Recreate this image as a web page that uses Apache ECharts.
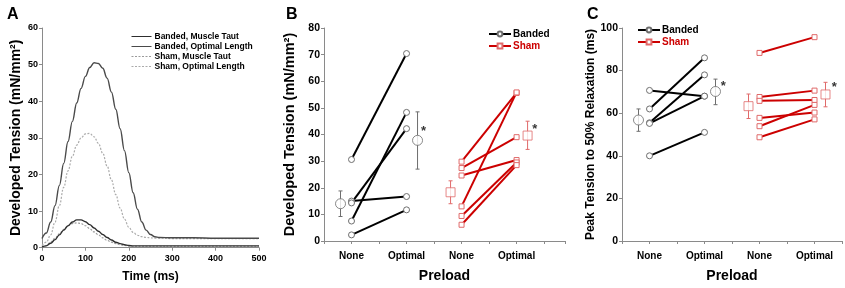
<!DOCTYPE html>
<html>
<head>
<meta charset="utf-8">
<script src="https://cdn.jsdelivr.net/npm/echarts@6/dist/echarts.min.js"></script>
<style>
  html, body { margin: 0; padding: 0; background: #fff; }
  #chart { width: 845px; height: 288px; }
</style>
</head>
<body>
<div id="chart"></div>
<script>
// Panel A: tension traces (time in ms)
const timeMs = [0,10,20,30,40,50,60,70,80,90,100,110,120,130,140,150,160,170,180,190,200,210,220,230,240,250,260,270,300,350,400,450,500];
const bandedTaut   = [0.2,0.5,1.2,2.2,3.5,4.8,6.0,7.0,7.6,7.6,7.1,6.3,5.4,4.5,3.6,2.8,2.1,1.5,1.1,0.8,0.6,0.5,0.5,0.5,0.5,0.5,0.5,0.5,0.5,0.5,0.5,0.5,0.5];
const bandedOptimal = [2.5,4,7,11.5,17,23,29,34.5,39.5,43.5,46.8,49.2,50.5,50.3,49,46.3,42.5,37.8,32.5,26.5,20.5,15,10.5,7,4.8,3.6,3.0,2.8,2.7,2.7,2.6,2.6,2.6];
const shamTaut     = [0.1,0.6,1.5,2.6,3.8,5.0,6.0,6.6,6.8,6.6,6.0,5.2,4.3,3.5,2.7,2.0,1.5,1.1,0.8,0.6,0.5,0.4,0.4,0.4,0.4,0.4,0.4,0.4,0.4,0.4,0.4,0.4,0.4];
const shamOptimal  = [0.6,1.5,3.5,7,11.5,16.5,21,25,28,30,31.1,31.2,30.3,28.5,25.8,22.3,18.5,14.5,10.8,7.8,5.6,4.2,3.4,3.0,2.8,2.7,2.6,2.6,2.5,2.5,2.5,2.5,2.5];

// Panels B and C: x positions of the preload groups
const groupPos = [1, 2, 3, 4];
const groupLabels = ['None', 'Optimal', 'None', 'Optimal'];

// Panel B: developed tension (mN/mm2), paired None -> Optimal
const bandedNoneB = [30.6, 15.0, 14.3, 7.5, 2.3];
const bandedOptB  = [70.4, 16.7, 42.2, 48.3, 11.7];
const shamNoneB   = [29.8, 27.4, 24.6, 13.0, 9.4, 6.1];
const shamOptB    = [55.6, 39.0, 30.4, 55.8, 29.5, 28.5];
const bandedMeanB = [14.0, 37.8], bandedLoB = [9.2, 27.0], bandedHiB = [18.8, 48.5];
const shamMeanB   = [18.3, 39.6], shamLoB   = [14.0, 34.4], shamHiB   = [22.6, 45.0];

// Panel C: peak tension to 50% relaxation (ms)
const bandedNoneC = [70.7, 62.0, 55.5, 55.2, 40.0];
const bandedOptC  = [68.0, 86.0, 78.0, 68.0, 51.0];
const shamNoneC   = [88.3, 67.6, 65.8, 57.8, 53.9, 48.7];
const shamOptC    = [95.7, 70.6, 66.2, 60.3, 63.9, 57.1];
const bandedMeanC = [56.8, 70.2], bandedLoC = [51.5, 64.0], bandedHiC = [62.0, 76.0];
const shamMeanC   = [63.3, 68.8], shamLoC   = [57.5, 63.0], shamHiC   = [69.0, 74.5];

// mean marker x positions (offset from groups), significance stars
const bandedMeanX = [0.8, 2.2];
const shamMeanX = [2.8, 4.2];
const starsB = [[2.31, 41], [4.33, 41.8]];
const starsC = [[2.34, 72.7], [4.36, 72.2]];

const FONT = 'Liberation Sans, Arial, sans-serif';
const RED = '#cc0000';
const LIGHTRED = '#e06a6a';
const GRAYMK = '#6e6e6e';

const chart = echarts.init(document.getElementById('chart'), null, { renderer: 'canvas' });

function zip(xs, ys) { return xs.map((x, i) => [x, ys[i]]); }

function axisBase(fontSize) {
  return {
    axisLine: { show: true, lineStyle: { color: '#8a8a8a', width: 1 } },
    axisTick: { show: true, length: 3, lineStyle: { color: '#8a8a8a' } },
    splitLine: { show: false },
    axisLabel: { color: '#000', fontWeight: 'bold', fontFamily: FONT, fontSize: fontSize, margin: 4 },
    nameTextStyle: { color: '#000', fontWeight: 'bold', fontFamily: FONT }
  };
}

function traceSeries(name, data, color, dotted, width) {
  return {
    name: name, type: 'line', xAxisIndex: 0, yAxisIndex: 0,
    data: zip(timeMs, data), symbol: 'none', smooth: 0.4, smoothMonotone: 'x',
    lineStyle: { color: color, width: width, type: dotted ? [2, 1.5] : 'solid' },
    itemStyle: { color: color }
  };
}

function pairSeries(name, none, opt, x0, axis, isSham) {
  return none.map((v, i) => ({
    name: name, type: 'line', xAxisIndex: axis, yAxisIndex: axis,
    data: [[groupPos[x0], v], [groupPos[x0 + 1], opt[i]]],
    symbol: isSham ? 'rect' : 'circle', symbolSize: isSham ? 5 : 6,
    lineStyle: { color: isSham ? RED : '#000', width: 2 },
    itemStyle: { color: '#fff', borderColor: isSham ? LIGHTRED : GRAYMK, borderWidth: 1 },
    z: 3
  }));
}

function errorSeries(xs, means, lo, hi, axis, color, isSham) {
  const data = xs.map((x, i) => [x, means[i], lo[i], hi[i]]);
  return [{
    type: 'custom', xAxisIndex: axis, yAxisIndex: axis, data: data,
    encode: { x: 0, y: [1, 2, 3] }, z: 2,
    renderItem: function (params, api) {
      const top = api.coord([api.value(0), api.value(3)]);
      const bot = api.coord([api.value(0), api.value(2)]);
      const w = 2;
      const st = { stroke: color, lineWidth: 1 };
      return { type: 'group', children: [
        { type: 'line', shape: { x1: top[0], y1: top[1], x2: bot[0], y2: bot[1] }, style: st },
        { type: 'line', shape: { x1: top[0] - w, y1: top[1], x2: top[0] + w, y2: top[1] }, style: st },
        { type: 'line', shape: { x1: bot[0] - w, y1: bot[1], x2: bot[0] + w, y2: bot[1] }, style: st }
      ] };
    }
  }, {
    type: 'scatter', xAxisIndex: axis, yAxisIndex: axis,
    data: zip(xs, means), symbol: isSham ? 'rect' : 'circle', symbolSize: isSham ? 9 : 10,
    itemStyle: { color: '#fff', borderColor: color, borderWidth: 1 }, z: 4
  }];
}

function starSeries(pts, axis) {
  return {
    type: 'scatter', xAxisIndex: axis, yAxisIndex: axis, data: pts,
    symbolSize: 1, itemStyle: { color: 'transparent' },
    label: { show: true, formatter: '*', position: 'inside', color: '#000',
      fontSize: 13, fontWeight: 'bold', fontFamily: FONT }
  };
}

const groupAxisLabel = function (v) {
  const i = groupPos.indexOf(v);
  return i >= 0 ? groupLabels[i] : '';
};

const option = {
  animation: false,
  backgroundColor: '#fff',
  title: [
    { text: 'A', left: 2, top: 2, textStyle: { fontSize: 16, fontWeight: 'bold', fontFamily: FONT, color: '#000' } },
    { text: 'B', left: 281, top: 2, textStyle: { fontSize: 16, fontWeight: 'bold', fontFamily: FONT, color: '#000' } },
    { text: 'C', left: 582, top: 2, textStyle: { fontSize: 16, fontWeight: 'bold', fontFamily: FONT, color: '#000' } }
  ],
  legend: [
    {
      orient: 'vertical', left: 131, top: 32, padding: 0, itemGap: 1,
      itemWidth: 20, itemHeight: 8,
      itemStyle: { opacity: 0 },
      lineStyle: { width: 1 },
      textStyle: { fontSize: 8.5, fontWeight: 'bold', fontFamily: FONT, color: '#000', lineHeight: 8, padding: [0, 0, 0, -2] },
      data: ['Banded, Muscle Taut', 'Banded, Optimal Length', 'Sham, Muscle Taut', 'Sham, Optimal Length']
    },
    {
      orient: 'vertical', left: 488, top: 29, padding: 0, itemGap: 2,
      itemWidth: 22, itemHeight: 6,
      textStyle: { fontSize: 10, fontWeight: 'bold', fontFamily: FONT, lineHeight: 9, padding: [0, 0, 0, -3] },
      data: [{ name: 'Banded', textStyle: { color: '#000' } }, { name: 'Sham', textStyle: { color: RED } }]
    },
    {
      orient: 'vertical', left: 637, top: 25, padding: 0, itemGap: 2,
      itemWidth: 22, itemHeight: 6,
      textStyle: { fontSize: 10, fontWeight: 'bold', fontFamily: FONT, lineHeight: 9, padding: [0, 0, 0, -3] },
      data: [{ name: 'Banded', textStyle: { color: '#000' } }, { name: 'Sham', textStyle: { color: RED } }]
    }
  ],
  grid: [
    { left: 42, top: 28, width: 217, height: 219.7 },
    { left: 324, top: 28, width: 241, height: 219.7 },
    { left: 622, top: 28, width: 220, height: 219.7 }
  ],
  xAxis: [
    Object.assign(axisBase(9), { gridIndex: 0, type: 'value', min: 0, max: 500, interval: 100,
      name: 'Time (ms)', nameLocation: 'middle', nameGap: 23,
      nameTextStyle: { color: '#000', fontWeight: 'bold', fontFamily: FONT, fontSize: 12 } }),
    Object.assign(axisBase(10), { gridIndex: 1, type: 'value', min: 0.5, max: 4.88, interval: 0.5,
      name: 'Preload', nameLocation: 'middle', nameGap: 28,
      nameTextStyle: { color: '#000', fontWeight: 'bold', fontFamily: FONT, fontSize: 14 } }),
    Object.assign(axisBase(10), { gridIndex: 2, type: 'value', min: 0.5, max: 4.5, interval: 0.5,
      name: 'Preload', nameLocation: 'middle', nameGap: 28,
      nameTextStyle: { color: '#000', fontWeight: 'bold', fontFamily: FONT, fontSize: 14 } })
  ],
  yAxis: [
    Object.assign(axisBase(9), { gridIndex: 0, type: 'value', min: 0, max: 60, interval: 10,
      name: 'Developed Tension (mN/mm\u00b2)', nameLocation: 'middle', nameGap: 19,
      nameTextStyle: { color: '#000', fontWeight: 'bold', fontFamily: FONT, fontSize: 14 } }),
    Object.assign(axisBase(10.5), { gridIndex: 1, type: 'value', min: 0, max: 80, interval: 10,
      name: 'Developed Tension (mN/mm\u00b2)', nameLocation: 'middle', nameGap: 27,
      nameTextStyle: { color: '#000', fontWeight: 'bold', fontFamily: FONT, fontSize: 14.5 } }),
    Object.assign(axisBase(10.5), { gridIndex: 2, type: 'value', min: 0, max: 100, interval: 20,
      name: 'Peak Tension to 50% Relaxation (ms)', nameLocation: 'middle', nameGap: 25,
      nameTextStyle: { color: '#000', fontWeight: 'bold', fontFamily: FONT, fontSize: 12 } })
  ],
  series: []
};

option.xAxis[0].axisLabel.margin = 6;
option.xAxis[1].axisLabel.formatter = groupAxisLabel;
option.xAxis[2].axisLabel.formatter = groupAxisLabel;
option.xAxis[1].axisLabel.margin = 10;
option.xAxis[2].axisLabel.margin = 10;

option.series = [].concat(
  traceSeries('Sham, Muscle Taut', shamTaut, '#9a9a9a', true, 1.2),
  traceSeries('Sham, Optimal Length', shamOptimal, '#ababab', true, 1.2),
  traceSeries('Banded, Muscle Taut', bandedTaut, '#2e2e2e', false, 1.4),
  traceSeries('Banded, Optimal Length', bandedOptimal, '#4a4a4a', false, 1.4),
  pairSeries('Banded', bandedNoneB, bandedOptB, 0, 1, false),
  pairSeries('Sham', shamNoneB, shamOptB, 2, 1, true),
  errorSeries(bandedMeanX, bandedMeanB, bandedLoB, bandedHiB, 1, GRAYMK, false),
  errorSeries(shamMeanX, shamMeanB, shamLoB, shamHiB, 1, LIGHTRED, true),
  starSeries(starsB, 1),
  pairSeries('Banded', bandedNoneC, bandedOptC, 0, 2, false),
  pairSeries('Sham', shamNoneC, shamOptC, 2, 2, true),
  errorSeries(bandedMeanX, bandedMeanC, bandedLoC, bandedHiC, 2, GRAYMK, false),
  errorSeries(shamMeanX, shamMeanC, shamLoC, shamHiC, 2, LIGHTRED, true),
  starSeries(starsC, 2)
);

chart.setOption(option);
</script>
</body>
</html>
